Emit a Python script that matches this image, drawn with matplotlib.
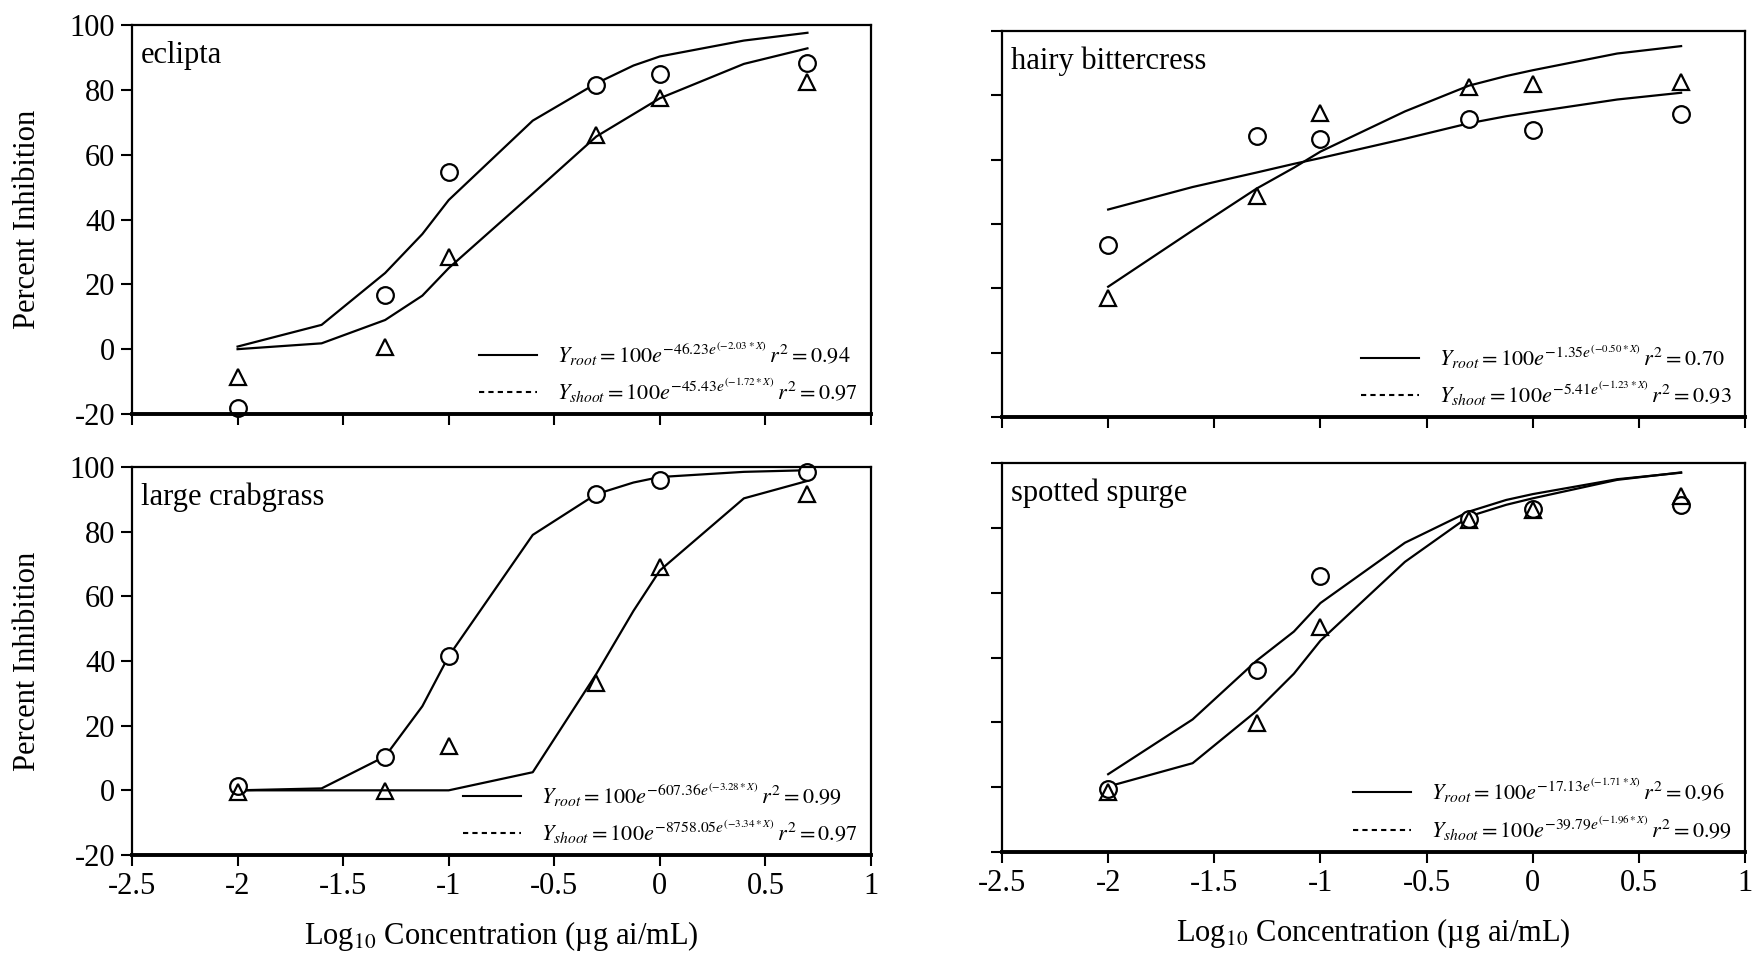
import matplotlib
matplotlib.use("Agg")
import matplotlib.pyplot as plt
from matplotlib.lines import Line2D

plt.rcParams['font.family'] = ['Liberation Serif', 'DejaVu Serif']
plt.rcParams['mathtext.fontset'] = 'stix'

# log10 doses where the six measurements were taken
x_obs = [-2, -1.301, -1, -0.301, 0, 0.699]
# doses along the fitted curves
x_fit = [-2, -1.602, -1.301, -1.125, -1, -0.602, -0.301, -0.125, 0, 0.398, 0.699]

# eclipta
ecl_root_obs = [-18.2, 16.8, 54.6, 81.5, 85.0, 88.2]
ecl_shoot_obs = [-8.7, 0.8, 28.5, 66.2, 77.6, 82.3]
ecl_root_fit = [0.8, 7.5, 23.5, 35.5, 46.0, 70.5, 82.0, 87.5, 90.3, 95.2, 97.6]
ecl_shoot_fit = [0.0, 1.8, 9.0, 16.5, 25.0, 48.0, 65.6, 72.5, 77.4, 88.0, 92.8]

# hairy bittercress
hb_root_obs = [33.6, 67.5, 66.5, 72.5, 69.2, 74.1]
hb_shoot_obs = [17.0, 48.7, 74.4, 82.7, 83.4, 84.1]
hb_root_fit = [44.5, 51.5, 56.0, 58.7, 60.5, 66.5, 71.3, 73.5, 74.8, 78.7, 80.8]
hb_shoot_fit = [20.5, 38.0, 51.0, 57.5, 62.5, 75.0, 83.0, 86.0, 87.8, 93.0, 95.3]

# large crabgrass
lc_root_obs = [1.2, 10.3, 41.5, 91.6, 96.0, 98.3]
lc_shoot_obs = [-0.6, -0.3, 13.8, 33.3, 69.2, 91.6]
lc_root_fit = [0.0, 0.6, 10.5, 26.0, 41.5, 79.0, 91.6, 95.2, 96.9, 98.5, 99.0]
lc_shoot_fit = [0.0, 0.0, 0.0, 0.0, 0.0, 5.6, 36.0, 55.5, 68.0, 90.3, 95.7]

# spotted spurge
ss_root_obs = [-0.6, 36.1, 65.1, 82.6, 85.8, 87.1]
ss_shoot_obs = [-1.5, 19.9, 49.3, 82.4, 85.5, 89.7]
ss_root_fit = [4.0, 20.9, 39.0, 48.0, 56.8, 75.4, 85.0, 88.6, 90.4, 95.0, 97.0]
ss_shoot_fit = [0.2, 7.4, 23.5, 35.0, 45.2, 69.5, 83.5, 87.1, 89.1, 94.8, 97.1]

species = ['eclipta', 'hairy bittercress', 'large crabgrass', 'spotted spurge']
eq_root = [
    r'$Y_{root} = 100e^{-46.23e^{(-2.03*X)}}\,r^2 = 0.94$',
    r'$Y_{root} = 100e^{-1.35e^{(-0.50*X)}}\,r^2 = 0.70$',
    r'$Y_{root} = 100e^{-607.36e^{(-3.28*X)}}\,r^2 = 0.99$',
    r'$Y_{root} = 100e^{-17.13e^{(-1.71*X)}}\,r^2 = 0.96$',
]
eq_shoot = [
    r'$Y_{shoot} = 100e^{-45.43e^{(-1.72*X)}}\,r^2 = 0.97$',
    r'$Y_{shoot} = 100e^{-5.41e^{(-1.23*X)}}\,r^2 = 0.93$',
    r'$Y_{shoot} = 100e^{-8758.05e^{(-3.34*X)}}\,r^2 = 0.97$',
    r'$Y_{shoot} = 100e^{-39.79e^{(-1.96*X)}}\,r^2 = 0.99$',
]

panels = [
    (ecl_root_obs, ecl_shoot_obs, ecl_root_fit, ecl_shoot_fit),
    (hb_root_obs, hb_shoot_obs, hb_root_fit, hb_shoot_fit),
    (lc_root_obs, lc_shoot_obs, lc_root_fit, lc_shoot_fit),
    (ss_root_obs, ss_shoot_obs, ss_root_fit, ss_shoot_fit),
]

W, H = 1756, 957
# pixel boxes: left, right, top, bottom
boxes = [(132, 871, 25, 414), (1002, 1745, 31, 417),
         (132, 871, 467, 855), (1002, 1745, 463, 852)]

fig = plt.figure(figsize=(W / 100, H / 100), dpi=100)

for i in range(4):
    l, r, t, b = boxes[i]
    ax = fig.add_axes([l / W, 1 - b / H, (r - l) / W, (b - t) / H])
    root_obs, shoot_obs, root_fit, shoot_fit = panels[i]

    ax.plot(x_fit, root_fit, color='black', lw=1.6)
    ax.plot(x_fit, shoot_fit, color='black', lw=1.6)
    ax.plot(x_obs, root_obs, 'o', ms=12, mfc='white', mec='black', mew=1.6, clip_on=False)
    ax.plot(x_obs, shoot_obs, '^', ms=12, mfc='none', mec='black', mew=1.6, clip_on=False)

    ax.set_xlim(-2.5, 1)
    ax.set_ylim(-20, 100)
    ax.set_xticks([-2.5, -2, -1.5, -1, -0.5, 0, 0.5, 1])
    ax.set_xticklabels(['-2.5', '-2', '-1.5', '-1', '-0.5', '0', '0.5', '1'])
    ax.set_yticks([-20, 0, 20, 40, 60, 80, 100])
    ax.set_yticklabels(['-20', '0', '20', '40', '60', '80', '100'])
    ax.tick_params(direction='out', length=8, width=1.5, labelsize=22, pad=4)

    for s in ['left', 'right', 'top']:
        ax.spines[s].set_linewidth(1.6)
    ax.spines['bottom'].set_linewidth(2.8)

    if i < 2:
        ax.tick_params(axis='x', labelbottom=False)
    else:
        ax.set_xlabel('Log$_{10}$ Concentration (\u00b5g ai/mL)', fontsize=22, labelpad=13)
    if i % 2 == 1:
        ax.tick_params(axis='y', labelleft=False)
    else:
        ax.set_ylabel('Percent Inhibition', fontsize=22, labelpad=20)

    ax.text(0.012, 0.96, species[i], transform=ax.transAxes, fontsize=22,
            ha='left', va='top')

    handles = [Line2D([], [], color='black', lw=1.5),
               Line2D([], [], color='black', lw=1.5, ls=(0, (2.5, 2)))]
    ax.legend(handles, [eq_root[i], eq_shoot[i]], loc='lower right',
              bbox_to_anchor=(1.0, -0.01), frameon=False, fontsize=16,
              handlelength=2.6, labelspacing=0.4, handletextpad=0.9,
              borderaxespad=0.2)

fig.savefig('out.png', dpi=100)
